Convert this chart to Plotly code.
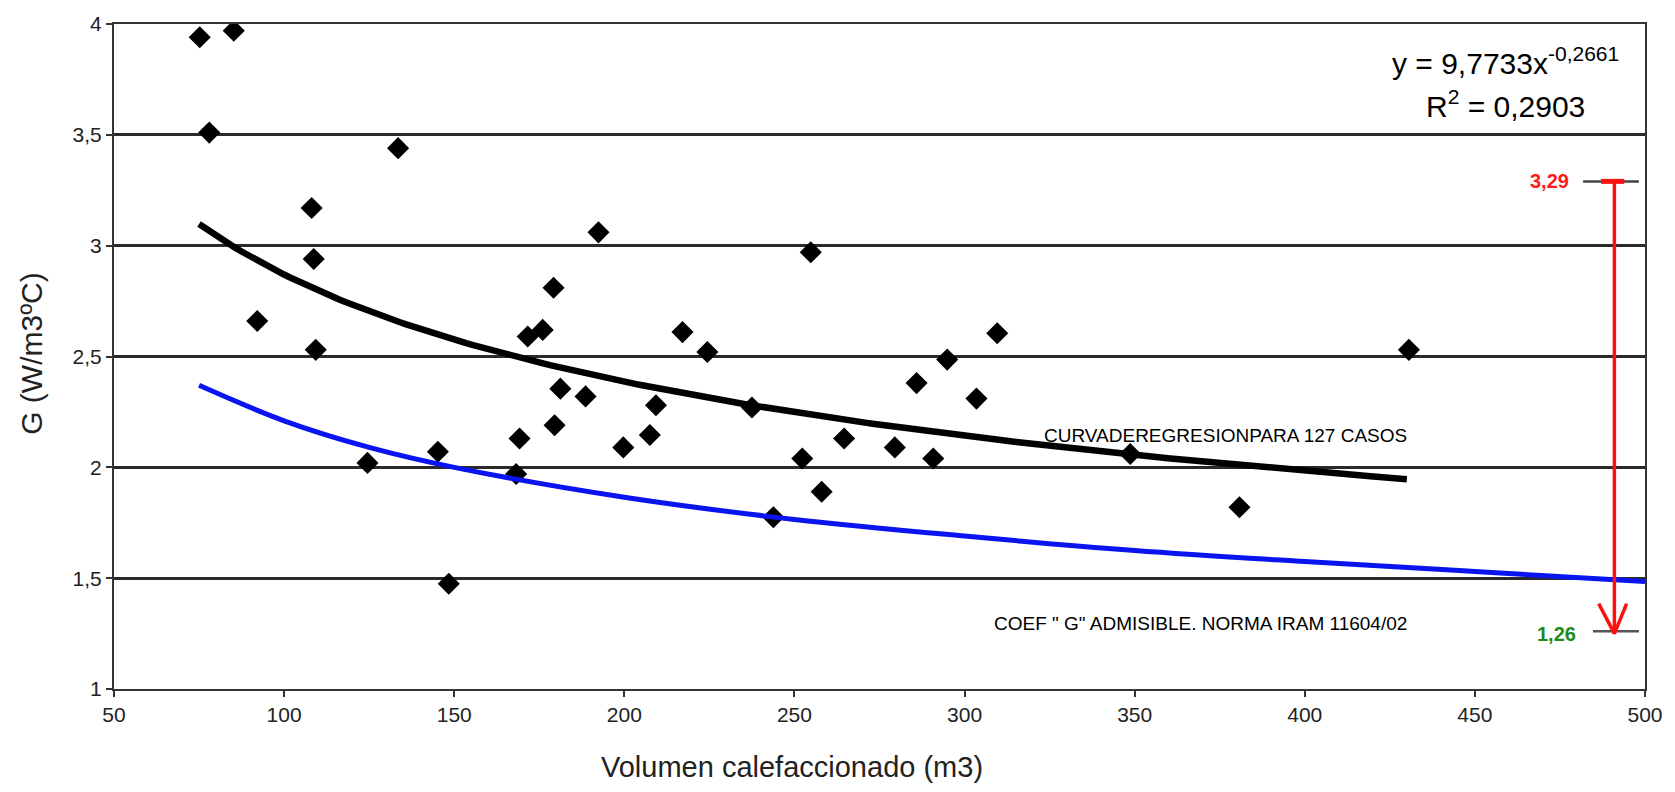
import numpy as np
import plotly.graph_objects as go

# ---------------- data ----------------
vol = [75.2, 85.2, 78.0, 133.5, 108.1, 108.7, 92.1, 109.3, 124.5, 145.2,
       148.4, 169.2, 168.2, 171.6, 176.0, 179.2, 181.2, 179.5, 188.6, 192.4,
       199.7, 207.5, 209.3, 217.1, 224.4, 237.5, 243.8, 252.3, 254.8, 258.0,
       264.6, 279.5, 285.9, 290.8, 294.9, 303.5, 309.6, 348.7, 380.8, 430.6]
g_val = [3.94, 3.97, 3.51, 3.44, 3.17, 2.94, 2.66, 2.53, 2.02, 2.07,
         1.475, 2.13, 1.97, 2.59, 2.62, 2.81, 2.355, 2.19, 2.32, 3.06,
         2.09, 2.146, 2.28, 2.61, 2.52, 2.27, 1.775, 2.04, 2.97, 1.89,
         2.13, 2.09, 2.38, 2.04, 2.486, 2.31, 2.605, 2.06, 1.82, 2.53]

# regression shown in the chart: y = 9,7733 x^-0,2661  (75 .. 430 m3)
reg_coef = 9.7733
reg_exp = -0.2661
reg_x_min, reg_x_max = 75, 430

# admissible G curve (IRAM 11604/02)
adm_x = [75, 100, 125, 150, 200, 250, 300, 350, 400, 450, 500]
adm_y = [2.37, 2.21, 2.09, 2.00, 1.865, 1.765, 1.69, 1.625, 1.575, 1.53, 1.485]

# red arrow annotation
arrow_x = 491
g_high = 3.29
g_low = 1.26
high_bar_x = [481.8, 498.2]
low_bar_x = [484.7, 498.2]
cap_x = [487.1, 493.9]
head_x = [486.4, 491, 494.6]
head_y = [1.385, 1.25, 1.385]

x_ticks = [50, 100, 150, 200, 250, 300, 350, 400, 450, 500]
y_ticks = [1, 1.5, 2, 2.5, 3, 3.5, 4]
y_tick_text = ["1", "1,5", "2", "2,5", "3", "3,5", "4"]

FONT = "Liberation Sans, Arial, sans-serif"

fig = go.Figure()

fig.add_trace(go.Scatter(
    x=vol, y=g_val, mode="markers",
    marker=dict(symbol="diamond", size=17, color="black"),
    showlegend=False, hoverinfo="x+y"))

reg_x = np.linspace(reg_x_min, reg_x_max, 200)
reg_y = reg_coef * reg_x ** reg_exp
fig.add_trace(go.Scatter(x=reg_x, y=reg_y, mode="lines",
                         line=dict(color="black", width=6.5), showlegend=False))

fig.add_trace(go.Scatter(x=adm_x, y=adm_y, mode="lines",
                         line=dict(color="#0a14f0", width=5, shape="spline"),
                         showlegend=False))

# gray level bars
fig.add_trace(go.Scatter(x=high_bar_x, y=[g_high, g_high], mode="lines",
                         line=dict(color="#444444", width=2.5), showlegend=False))
fig.add_trace(go.Scatter(x=low_bar_x, y=[g_low, g_low], mode="lines",
                         line=dict(color="#555555", width=2.5), showlegend=False))
# red arrow
fig.add_trace(go.Scatter(x=[arrow_x, arrow_x], y=[g_high, g_low], mode="lines",
                         line=dict(color="#ff1010", width=3.5), showlegend=False))
fig.add_trace(go.Scatter(x=cap_x, y=[g_high, g_high], mode="lines",
                         line=dict(color="#ff1010", width=5), showlegend=False))
fig.add_trace(go.Scatter(x=head_x, y=head_y, mode="lines",
                         line=dict(color="#ff1010", width=3.5), showlegend=False))

annotations = [
    dict(x=478.3, y=g_high, text="<b>3,29</b>", showarrow=False, xanchor="right",
         yanchor="middle", font=dict(family=FONT, size=20, color="#ff1a1a")),
    dict(x=480.3, y=g_low - 0.01, text="<b>1,26</b>", showarrow=False, xanchor="right",
         yanchor="middle", font=dict(family=FONT, size=20, color="#1e8a1e")),
    dict(x=430.5, y=2.145, text="CURVADEREGRESIONPARA 127 CASOS", showarrow=False,
         xanchor="right", yanchor="middle", font=dict(family=FONT, size=19, color="black")),
    dict(x=430.5, y=1.295, text="COEF \" G\" ADMISIBLE. NORMA IRAM 11604/02", showarrow=False,
         xanchor="right", yanchor="middle", font=dict(family=FONT, size=19, color="black")),
    dict(x=459, y=3.835, text="y = 9,7733x<sup>-0,2661</sup>", showarrow=False,
         xanchor="center", yanchor="middle", font=dict(family=FONT, size=30, color="black")),
    dict(x=459, y=3.64, text="R<sup>2</sup> = 0,2903", showarrow=False,
         xanchor="center", yanchor="middle", font=dict(family=FONT, size=30, color="black")),
    # axis titles
    dict(xref="paper", yref="paper", x=0.443, y=0, yshift=-78,
         text="Volumen calefaccionado (m3)", showarrow=False,
         xanchor="center", yanchor="middle",
         font=dict(family=FONT, size=29, color="#222222")),
    dict(xref="paper", yref="paper", x=0, xshift=-82, y=0.504,
         text="G (W/m3ºC)", showarrow=False, textangle=-90,
         xanchor="center", yanchor="middle",
         font=dict(family=FONT, size=30, color="#222222")),
]

fig.update_layout(
    width=1675, height=792,
    margin=dict(l=114, r=28, t=18, b=103),
    paper_bgcolor="white", plot_bgcolor="white",
    font=dict(family=FONT, color="black"),
    annotations=annotations,
    showlegend=False,
)

fig.update_xaxes(
    range=[50, 500], tickvals=x_ticks, ticktext=[str(v) for v in x_ticks],
    showgrid=False, zeroline=False,
    showline=True, linecolor="#333333", linewidth=2, mirror=True,
    ticks="outside", ticklen=6, tickwidth=2, tickcolor="#333333",
    tickfont=dict(family=FONT, size=21, color="#222222"),
)
fig.update_yaxes(
    range=[1, 4], tickvals=y_ticks, ticktext=y_tick_text,
    showgrid=True, gridcolor="#2a2a2a", gridwidth=2.5, zeroline=False,
    showline=True, linecolor="#333333", linewidth=2, mirror=True,
    ticks="outside", ticklen=6, tickwidth=2, tickcolor="#333333",
    tickfont=dict(family=FONT, size=21, color="#222222"),
)

fig.write_html("out.html")
